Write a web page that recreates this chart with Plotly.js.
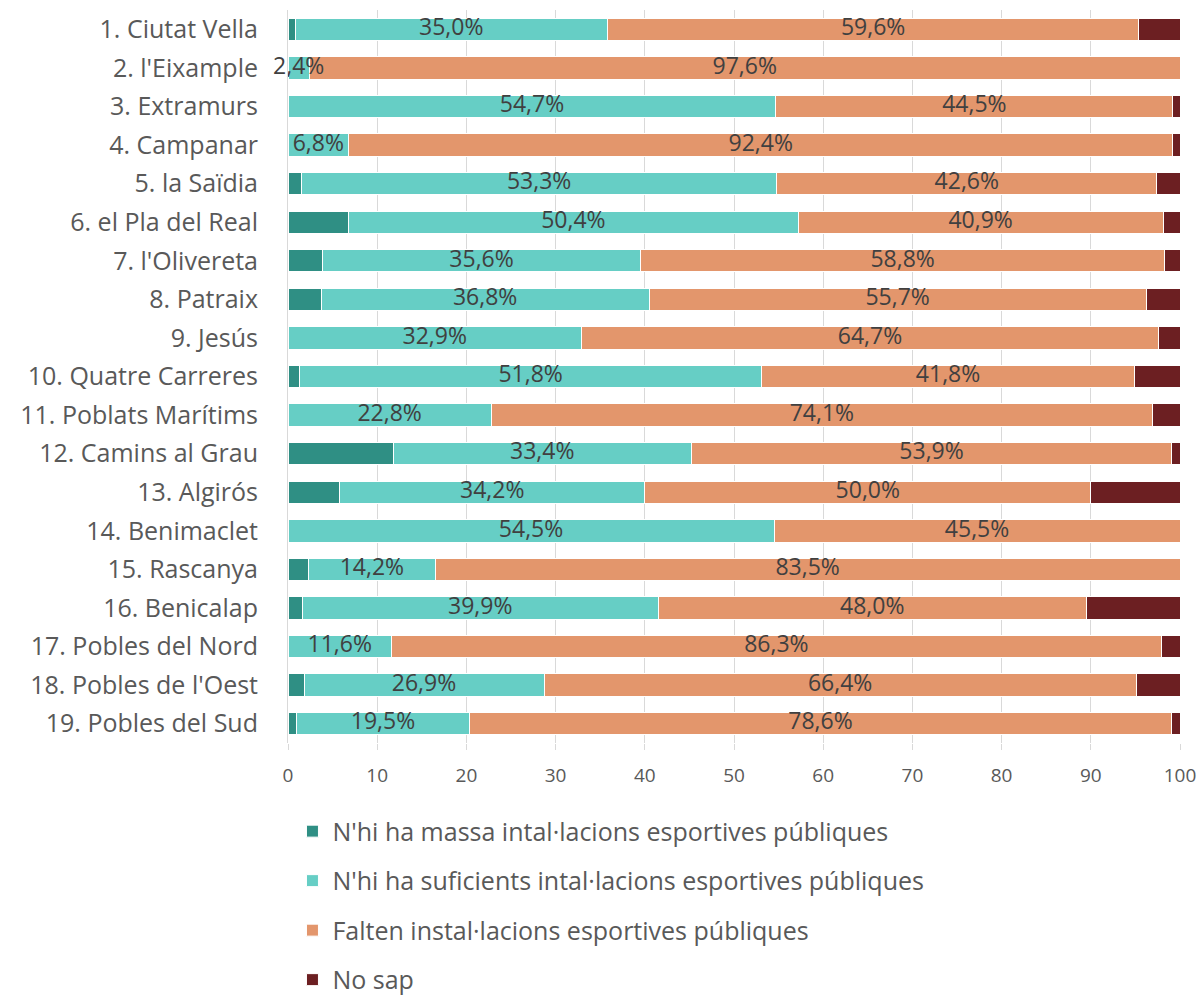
<!DOCTYPE html>
<html>
<head>
<meta charset="utf-8">
<script src="https://cdn.plot.ly/plotly-3.0.1.min.js"></script>
<style>html,body{margin:0;padding:0;background:#fff;}#chart{width:1200px;height:998px;}</style>
</head>
<body>
<div id="chart"></div>
<script>
const districts = ["1. Ciutat Vella","2. l'Eixample","3. Extramurs","4. Campanar","5. la Saïdia","6. el Pla del Real","7. l'Olivereta","8. Patraix","9. Jesús","10. Quatre Carreres","11. Poblats Marítims","12. Camins al Grau","13. Algirós","14. Benimaclet","15. Rascanya","16. Benicalap","17. Pobles del Nord","18. Pobles de l'Oest","19. Pobles del Sud"];
const massa      = [0.8, 0, 0, 0, 1.5, 6.8, 3.9, 3.7, 0, 1.3, 0, 11.8, 5.8, 0, 2.3, 1.6, 0, 1.8, 0.9];
const suficients = [35.0, 2.4, 54.7, 6.8, 53.3, 50.4, 35.6, 36.8, 32.9, 51.8, 22.8, 33.4, 34.2, 54.5, 14.2, 39.9, 11.6, 26.9, 19.5];
const falten     = [59.6, 97.6, 44.5, 92.4, 42.6, 40.9, 58.8, 55.7, 64.7, 41.8, 74.1, 53.9, 50.0, 45.5, 83.5, 48.0, 86.3, 66.4, 78.6];
const noSap      = [4.6, 0, 0.8, 0.8, 2.6, 1.9, 1.7, 3.8, 2.4, 5.1, 3.1, 0.9, 10.0, 0, 0, 10.5, 2.1, 4.9, 1.0];
const seriesNames = ["N'hi ha massa intal·lacions esportives públiques","N'hi ha suficients intal·lacions esportives públiques","Falten instal·lacions esportives públiques","No sap"];
const tickVals = [0,10,20,30,40,50,60,70,80,90,100];

const fmt = v => v.toFixed(1).replace('.', ',') + '%';
const colors = ['#2f8f84','#66cec5','#e3966c','#6c1f22'];
const FONT = 'Open Sans, sans-serif';

const data = [massa, suficients, falten, noSap].map((vals, i) => ({
  type: 'bar', orientation: 'h', name: seriesNames[i],
  y: districts, x: vals,
  marker: {color: colors[i], line: {color: '#ffffff', width: 1}},
  legendgroup: 'g' + i,
  textposition: 'none',
  hoverinfo: 'x+name'
}));

// value labels for the 2nd and 3rd series, centred on their segments
const sufCenters = suficients.map((v, k) => massa[k] + v / 2);
const faltCenters = falten.map((v, k) => massa[k] + suficients[k] + v / 2);
[[sufCenters, suficients], [faltCenters, falten]].forEach(([cx, vals]) => {
  data.push({
    type: 'scatter', mode: 'text', x: cx, y: districts,
    text: vals.map(fmt), textposition: 'middle center',
    textfont: {family: FONT, size: 23, color: '#404040'},
    showlegend: false, hoverinfo: 'skip', cliponaxis: false
  });
});

const layout = {
  width: 1200, height: 998,
  margin: {l: 288, r: 20, t: 10, b: 255, autoexpand: false},
  paper_bgcolor: '#ffffff', plot_bgcolor: '#ffffff',
  barmode: 'stack', bargap: 0.42,
  font: {family: FONT, color: '#595959'},
  xaxis: {
    range: [0, 100], tickvals: tickVals, ticktext: tickVals.map(String),
    showgrid: true, gridcolor: '#d9d9d9', gridwidth: 1,
    zeroline: false, showline: false,
    ticks: 'outside', ticklen: 6, tickcolor: '#d9d9d9',
    ticklabelstandoff: 9,
    tickfont: {size: 19, color: '#595959'}
  },
  yaxis: {
    autorange: false, range: [districts.length - 0.5, -0.5],
    type: 'category', categoryorder: 'array', categoryarray: districts,
    showgrid: false, zeroline: false,
    showline: true, linecolor: '#d9d9d9', linewidth: 1,
    ticks: '', ticklabelstandoff: 24,
    tickfont: {size: 25, color: '#595959'}
  },
  showlegend: true,
  legend: {
    orientation: 'v', x: 0.005, xanchor: 'left',
    yref: 'container', y: 0.19, yanchor: 'top',
    font: {size: 25, color: '#595959'},
    traceorder: 'grouped', tracegroupgap: 14,
    itemwidth: 30, bgcolor: 'rgba(0,0,0,0)'
  }
};

Plotly.newPlot('chart', data, layout, {displayModeBar: false});
</script>
</body>
</html>
